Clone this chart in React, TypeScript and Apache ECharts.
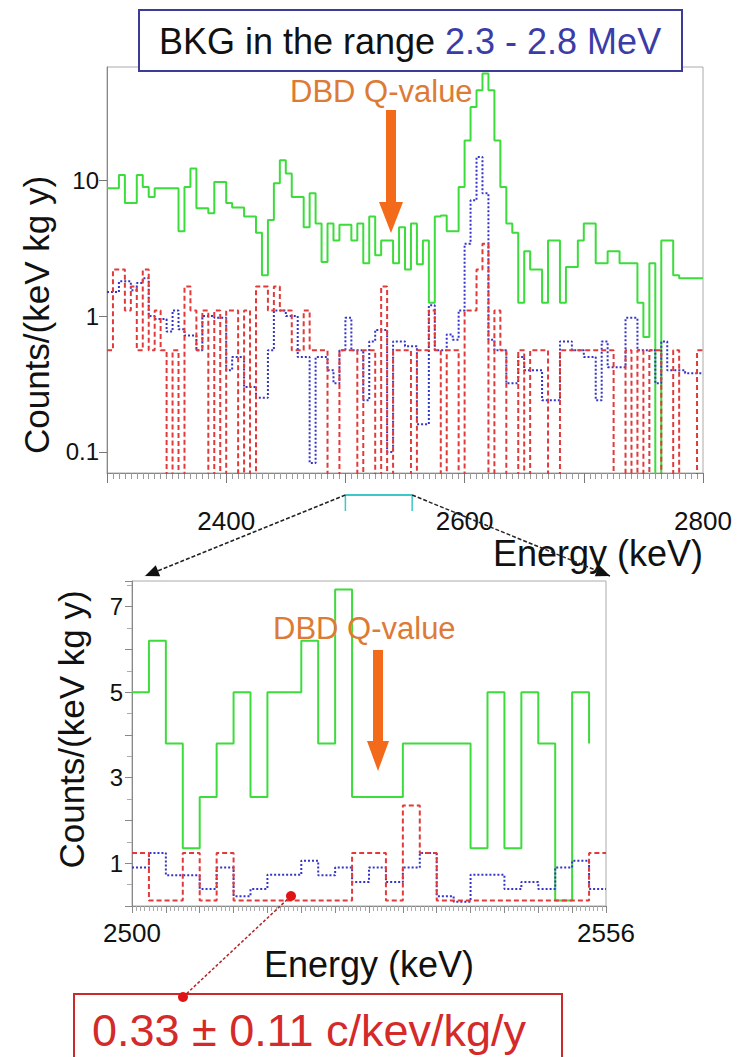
import React, { useEffect, useRef } from "react";
import * as echarts from "echarts";

const FONT = "Liberation Sans, Arial, sans-serif";

// ---------- Top panel: 2300-2800 keV, 5 keV bins ----------
const TOP_START = 2300;
const TOP_BIN = 5;
const topGreen = [
  8.7, 8.7, 10.9, 6.8, 6.8, 10.9, 8.9, 7.5, 8.7, 8.7,
  8.7, 8.7, 4.2, 8.9, 12.2, 6.2, 6.2, 5.7, 9.7, 9.7,
  6.8, 6.3, 6.3, 5.4, 5.4, 4.1, 2.0, 5.1, 9.5, 14,
  11.2, 7.5, 7.5, 4.5, 8, 4.8, 2.5, 4.8, 3.6, 4.7,
  4.7, 3.6, 4.8, 2.45, 5.4, 2.8, 3.6, 3.6, 2.45, 4.5,
  2.2, 4.8, 2.4, 3.6, 1.25, 5.4, 5.5, 4.2, 4.2, 8.9,
  19.6, 34.5, 45.8, 61, 45.8, 19.6, 8.9, 4.8, 4.1, 1.25,
  3.0, 2.2, 2.2, 1.25, 3.6, 3.6, 1.25, 2.3, 2.3, 3.6,
  4.8, 4.8, 2.45, 2.45, 3.0, 3.0, 2.45, 2.45, 2.45, 1.25,
  0.7, 2.45, 0, 3.6, 3.6, 2.0, 1.9, 1.9, 1.9, 1.9,
];
const topBlue = [
  1.5, 1.5, 1.8, 1.8, 1.55, 1.75, 1.9, 1.0, 0.95, 0.95,
  0.77, 1.1, 0.8, 0.72, 0.72, 0.56, 1.0, 1.0, 0.97, 0.97,
  0.4, 0.5, 0.5, 0.3, 0.3, 0.25, 0.25, 0.56, 1.1, 1.1,
  1.0, 1.0, 0.5, 0.5, 0.083, 0.5, 0.5, 0.4, 0.32, 0.56,
  0.97, 0.56, 0.56, 0.24, 0.65, 0.79, 0.79, 0.1, 0.65, 0.65,
  0.6, 0.6, 0.16, 0.16, 1.2, 0.56, 0.56, 0.73, 0.67, 1.1,
  3.4, 7.1, 14.8, 8.0, 0.67, 0.56, 0.56, 0.32, 0.32, 0.5,
  0.4, 0.4, 0.4, 0.24, 0.24, 0.24, 0.65, 0.65, 0.56, 0.56,
  0.5, 0.5, 0.24, 0.65, 0.42, 0.42, 0.42, 0.97, 0.97, 0.56,
  0.56, 0.56, 0.32, 0.65, 0.4, 0.4, 0.4, 0.38, 0.38, 0.38,
];
const topRed = [
  0.56, 2.2, 2.2, 1.1, 1.65, 0.56, 2.2, 0.56, 1.1, 0.56,
  0, 0.56, 0, 1.65, 1.1, 0.56, 1.1, 0, 1.1, 0,
  1.1, 1.1, 0, 1.1, 0, 1.65, 1.65, 1.1, 1.65, 1.1,
  1.1, 0.56, 0.56, 1.1, 0.56, 0.56, 0.56, 0, 0, 0.56,
  0.56, 0.56, 0, 0.56, 0.56, 0, 1.65, 0, 0.56, 0.56,
  0.56, 0, 0.56, 0.56, 1.1, 0.56, 0, 0.56, 0.56, 0,
  1.1, 1.1, 2.2, 3.4, 0, 1.1, 0.56, 0, 0, 0.56,
  0, 0.56, 0.56, 0.56, 0, 0, 0.56, 0.56, 0.56, 0.56,
  0.56, 0.56, 0.56, 0.56, 0.56, 0, 0, 0.56, 0, 0.56,
  0, 0.56, 0.56, 0, 0, 0.56, 0, 0, 0, 0.56,
];
const TOP_ZERO = 0.01; // empty bins drop below the log axis floor

// ---------- Bottom panel: 2500-2556 keV, 2 keV bins ----------
const BOT_START = 2500;
const BOT_BIN = 2;
const botGreen = [
  5.0, 6.2, 3.8, 1.35, 2.55, 3.8, 5.0, 2.55, 5.0, 5.0,
  6.2, 3.8, 7.4, 2.55, 2.55, 2.55, 3.8, 3.8, 3.8, 3.8,
  1.35, 5.0, 1.35, 5.0, 3.8, 0, 5.0,
];
const botGreenEnd = 3.8;
const botBlue = [
  0.9, 1.24, 0.72, 0.72, 0.4, 0.9, 0.23, 0.4, 0.73, 0.73,
  1.06, 0.72, 0.9, 0.56, 0.9, 0.56, 0.9, 1.24, 0.23, 0.1,
  0.73, 0.73, 0.4, 0.56, 0.4, 0.9, 1.06, 0.4,
];
const botRed = [
  1.24, 0, 0, 1.24, 0, 1.24, 0, 0, 0, 0,
  0, 0, 0, 1.24, 1.24, 0, 2.35, 1.24, 0, 0,
  0, 0, 0, 0, 0, 0, 0, 1.24,
];
const BOT_ZERO = 0.13;

const topYTicks = [0.1, 1, 10];
const botYTicks = [1, 3, 5, 7];
const topXTicks = [2400, 2600, 2800];
const botXTicks = [2500, 2556];

function stepData(start: number, bin: number, vals: number[], zero: number, endVal?: number) {
  const pts: number[][] = vals.map((v, i) => [start + i * bin, v > 0 ? v : zero]);
  const last = endVal !== undefined ? endVal : vals[vals.length - 1];
  pts.push([start + vals.length * bin, last > 0 ? last : zero]);
  return pts;
}

const GREEN = "#3ddc3d";
const BLUE = "#3434c8";
const RED = "#e23a3a";
const ORANGE_TXT = "#dd7b35";
const ORANGE = "#f26a1a";

function lineSeries(name: string, x: number, y: number, data: number[][], color: string, type: any, z: number) {
  return {
    name,
    type: "line",
    xAxisIndex: x,
    yAxisIndex: y,
    step: "end",
    showSymbol: false,
    symbol: "none",
    clip: true,
    data,
    z,
    lineStyle: { color, width: 2, type },
    emphasis: { disabled: true },
  };
}

export default function App() {
  const ref = useRef<HTMLDivElement>(null);
  useEffect(() => {
    if (!ref.current) return;
    const chart = echarts.init(ref.current, null, { renderer: "svg" });
    const axisText = { color: "#111", fontFamily: FONT };
    const option: any = {
      animation: false,
      backgroundColor: "#fff",
      grid: [
        { left: 107, top: 67, width: 596, height: 406, show: true, borderColor: "#aaa", borderWidth: 1, backgroundColor: "#fff", containLabel: false, outerBoundsMode: "none" },
        { left: 132, top: 581, width: 474, height: 325, show: true, borderColor: "#aaa", borderWidth: 1, backgroundColor: "#fff", containLabel: false, outerBoundsMode: "none" },
      ],
      xAxis: [
        {
          gridIndex: 0, type: "value", min: 2300, max: 2800, interval: 100,
          axisLine: { show: true, lineStyle: { color: "#888" } },
          axisTick: { show: true, length: 10, lineStyle: { color: "#777" } },
          minorTick: { show: true, splitNumber: 20, length: 6, lineStyle: { color: "#999" } },
          splitLine: { show: false },
          axisLabel: { ...axisText, fontSize: 26, margin: 35, formatter: (v: number) => (topXTicks.includes(v) ? String(v) : "") },
        },
        {
          gridIndex: 1, type: "value", min: 2500, max: 2556, interval: 4,
          axisLine: { show: true, lineStyle: { color: "#888" } },
          axisTick: { show: true, length: 7, lineStyle: { color: "#888" } },
          minorTick: { show: true, splitNumber: 8, length: 5, lineStyle: { color: "#aaa" } },
          splitLine: { show: false },
          axisLabel: { ...axisText, fontSize: 26, margin: 14, formatter: (v: number) => (botXTicks.includes(v) ? String(v) : "") },
          name: "Energy (keV)", nameLocation: "middle", nameGap: 30,
          nameTextStyle: { ...axisText, fontSize: 36 },
        },
      ],
      yAxis: [
        {
          gridIndex: 0, type: "log", logBase: 10, min: 0.07, max: 68,
          axisLine: { show: true, lineStyle: { color: "#888" } },
          axisTick: { show: true, length: 8, lineStyle: { color: "#777" } },
          splitLine: { show: false },
          axisLabel: {
            ...axisText, fontSize: 24, margin: 8, showMinLabel: false, showMaxLabel: false,
            formatter: (v: number) => {
              const t = topYTicks.find((k) => Math.abs(k - v) / k < 1e-6);
              return t !== undefined ? String(t) : "";
            },
          },
          name: "Counts/(keV kg y)", nameLocation: "middle", nameGap: 53, nameRotate: 90,
          nameTextStyle: { ...axisText, fontSize: 35, padding: [0, 90, 0, 0] },
        },
        {
          gridIndex: 1, type: "value", min: 0, max: 7.6, interval: 1,
          axisLine: { show: true, lineStyle: { color: "#888" } },
          axisTick: { show: true, length: 7, lineStyle: { color: "#888" } },
          minorTick: { show: true, splitNumber: 2, length: 5, lineStyle: { color: "#aaa" } },
          splitLine: { show: false },
          axisLabel: { ...axisText, fontSize: 24, margin: 9, formatter: (v: number) => (botYTicks.includes(v) ? String(v) : "") },
          name: "Counts/(keV kg y)", nameLocation: "middle", nameGap: 43, nameRotate: 90,
          nameTextStyle: { ...axisText, fontSize: 35, padding: [0, 0, 0, 28] },
        },
      ],
      series: [
        lineSeries("total", 0, 0, stepData(TOP_START, TOP_BIN, topGreen, TOP_ZERO), GREEN, "solid", 2),
        lineSeries("anti-coinc", 0, 0, stepData(TOP_START, TOP_BIN, topBlue, TOP_ZERO), BLUE, "dotted", 3),
        lineSeries("single", 0, 0, stepData(TOP_START, TOP_BIN, topRed, TOP_ZERO), RED, [5, 3], 4),
        lineSeries("total", 1, 1, stepData(BOT_START, BOT_BIN, botGreen, BOT_ZERO, botGreenEnd), GREEN, "solid", 2),
        lineSeries("anti-coinc", 1, 1, stepData(BOT_START, BOT_BIN, botBlue, BOT_ZERO), BLUE, "dotted", 3),
        lineSeries("single", 1, 1, stepData(BOT_START, BOT_BIN, botRed, BOT_ZERO), RED, [5, 3], 4),
      ],
    };
    chart.setOption(option);

    // annotations
    const bx1 = chart.convertToPixel({ xAxisIndex: 0 } as any, 2500) as number;
    const bx2 = chart.convertToPixel({ xAxisIndex: 0 } as any, 2556) as number;
    const xEnd = chart.convertToPixel({ xAxisIndex: 0 } as any, 2800) as number;
    const by = 495;
    const arrowHead = (x1: number, y1: number, x2: number, y2: number, L: number, W: number) => {
      const dx = x2 - x1, dy = y2 - y1;
      const len = Math.sqrt(dx * dx + dy * dy);
      const ux = dx / len, uy = dy / len;
      const nx = -uy, ny = ux;
      return [
        [x2, y2],
        [x2 - ux * L + nx * W, y2 - uy * L + ny * W],
        [x2 - ux * L - nx * W, y2 - uy * L - ny * W],
      ];
    };
    const tipL = [145, 576];
    const tipR = [610, 576];
    const blockArrow = (cx: number, y0: number, yHead: number, yTip: number, shaftW: number, headW: number) => ({
      type: "polygon",
      shape: {
        points: [
          [cx - shaftW / 2, y0], [cx + shaftW / 2, y0], [cx + shaftW / 2, yHead], [cx + headW, yHead],
          [cx, yTip], [cx - headW, yHead], [cx - shaftW / 2, yHead],
        ],
      },
      style: { fill: ORANGE },
      z: 50,
    });
    const graphic: any[] = [
      // title box
      { type: "rect", shape: { x: 139, y: 10, width: 543, height: 61 }, style: { fill: "#fff", stroke: "#3c3c96", lineWidth: 2 }, z: 40 },
      {
        type: "text", x: 410, y: 41, z: 41,
        style: {
          text: "{a|BKG in the range }{b|2.3 - 2.8 MeV}",
          align: "center", verticalAlign: "middle", font: `36px ${FONT}`,
          rich: {
            a: { fill: "#111", fontSize: 36, fontFamily: FONT },
            b: { fill: "#3c3ca8", fontSize: 36, fontFamily: FONT },
          },
        },
      },
      // top x-axis title
      { type: "text", x: xEnd, y: 553, z: 20, style: { text: "Energy (keV)", fill: "#111", fontSize: 36, fontFamily: FONT, align: "right", verticalAlign: "middle" } },
      // DBD Q-value, top
      { type: "text", x: 290, y: 91, z: 50, style: { text: "DBD Q-value", fill: ORANGE_TXT, fontSize: 31, fontFamily: FONT, align: "left", verticalAlign: "middle" } },
      blockArrow(391, 110, 202, 233, 10, 12),
      // DBD Q-value, bottom
      { type: "text", x: 273, y: 628, z: 50, style: { text: "DBD Q-value", fill: ORANGE_TXT, fontSize: 31, fontFamily: FONT, align: "left", verticalAlign: "middle" } },
      blockArrow(378, 650, 741, 771, 10, 11),
      // cyan bracket
      { type: "line", shape: { x1: bx1, y1: by, x2: bx2, y2: by }, style: { stroke: "#3cc8c8", lineWidth: 2 }, z: 30 },
      { type: "line", shape: { x1: bx1, y1: by, x2: bx1, y2: by + 16 }, style: { stroke: "#3cc8c8", lineWidth: 1.5 }, z: 30 },
      { type: "line", shape: { x1: bx2, y1: by, x2: bx2, y2: by + 16 }, style: { stroke: "#3cc8c8", lineWidth: 1.5 }, z: 30 },
      // zoom arrows
      { type: "line", shape: { x1: bx1, y1: by, x2: tipL[0], y2: tipL[1] }, style: { stroke: "#222", lineWidth: 1.5, lineDash: [4, 2] }, z: 30 },
      { type: "polygon", shape: { points: arrowHead(bx1, by, tipL[0], tipL[1], 14, 6) }, style: { fill: "#111" }, z: 30 },
      { type: "line", shape: { x1: bx2, y1: by, x2: tipR[0], y2: tipR[1] }, style: { stroke: "#222", lineWidth: 1.5, lineDash: [4, 2] }, z: 30 },
      { type: "polygon", shape: { points: arrowHead(bx2, by, tipR[0], tipR[1], 14, 6) }, style: { fill: "#111" }, z: 30 },
      // result box
      { type: "rect", shape: { x: 74, y: 994, width: 488, height: 80 }, style: { fill: "#fff", stroke: "#cc2a2a", lineWidth: 2 }, z: 40 },
      { type: "text", x: 92, y: 1030, z: 41, style: { text: "0.33 \u00b1 0.11 c/kev/kg/y", fill: "#d42a2a", fontSize: 45, fontFamily: FONT, align: "left", verticalAlign: "middle" } },
      { type: "line", shape: { x1: 291, y1: 896, x2: 183, y2: 997 }, style: { stroke: "#b02424", lineWidth: 1.5, lineDash: [3, 2] }, z: 45 },
      { type: "circle", shape: { cx: 291, cy: 896, r: 5 }, style: { fill: "#e01414" }, z: 46 },
      { type: "circle", shape: { cx: 183, cy: 997, r: 5 }, style: { fill: "#e01414" }, z: 46 },
    ];
    chart.setOption({ graphic });
    return () => chart.dispose();
  }, []);
  return <div ref={ref} style={{ position: "fixed", left: 0, top: 0, width: 743, height: 1057, background: "#fff" }} />;
}
